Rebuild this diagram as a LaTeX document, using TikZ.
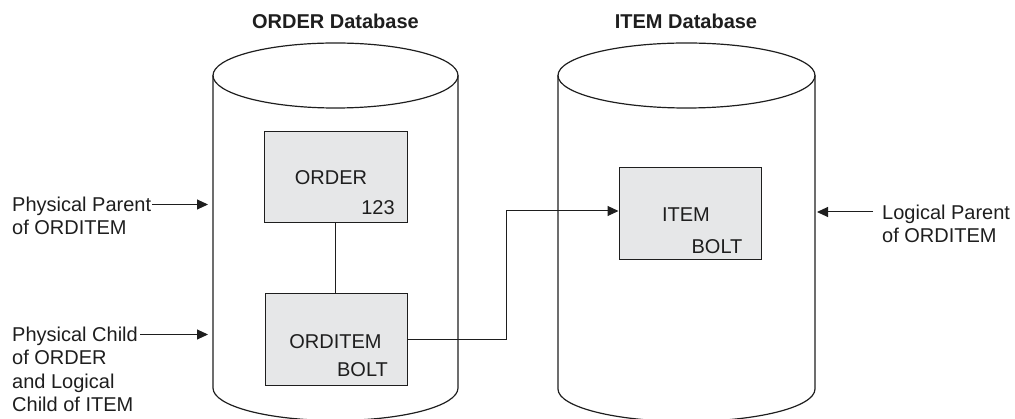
\documentclass[tikz,border=0pt]{standalone}
\usepackage{fontspec}
\setmainfont{Liberation Sans}
\usetikzlibrary{arrows.meta,calc}
\definecolor{boxfill}{HTML}{E6E7E8}
\definecolor{ink}{HTML}{1E1E1E}
\begin{document}
\begin{tikzpicture}[x=1pt,y=1pt,
  every node/.style={font=\fontsize{20}{23.5}\selectfont, text=ink},
  cyl/.style={draw=ink, line width=1.2pt},
  segbox/.style={draw=ink, fill=boxfill, line width=1pt, minimum width=142pt, minimum height=92pt, inner sep=0pt},
  link/.style={draw=ink, line width=1pt},
  arr/.style={draw=ink, line width=1pt, -{Triangle[length=11pt,width=10pt]}},
  lbl/.style={anchor=north west, align=left, inner sep=0pt},
  title/.style={font=\fontsize{20}{23.5}\selectfont\bfseries}
]
\useasboundingbox (0,0) rectangle (1015,-419);

% ORDER database cylinder
\draw[cyl] (335.5,-75.5) ellipse [x radius=122.5, y radius=32.5];
\draw[cyl] (213,-75.5) -- (213,-388) arc [start angle=180, end angle=360, x radius=122.5, y radius=32.5] -- (458,-75.5);
% ITEM database cylinder
\draw[cyl] (686.5,-75.5) ellipse [x radius=128.5, y radius=32.5];
\draw[cyl] (558,-75.5) -- (558,-389) arc [start angle=180, end angle=360, x radius=128.5, y radius=32.5] -- (815,-75.5);

% titles
\node[title] (t1) at (335.5,-21) {ORDER Database};
\node[title] (t2) at (686,-21) {ITEM Database};

% segment boxes
\node[segbox, minimum width=143pt, minimum height=91pt] (order) at (335.5,-177.5) {};
\node[segbox] (orditem) at (336,-340) {};
\node[segbox] (item) at (690,-214) {};

\node (ordertxt) at (331,-178) {ORDER};
\node (ordernum) at (378,-208) {123};
\node (orditemtxt) at (335.5,-342) {ORDITEM};
\node (orditembolt) at (362.5,-370) {BOLT};
\node (itemtxt) at (686,-215) {ITEM};
\node (itembolt) at (717,-247) {BOLT};

% connectors
\draw[link] (order.south) -- (order.south |- orditem.north);
\draw[arr] (orditem.east) -- ++(99,0) |- ([yshift=3pt]item.west);

% side labels
\node[lbl] (pp) at (12,-196.5) {Physical Parent\\of ORDITEM};
\node[lbl] (pc) at (12,-326.5) {Physical Child\\of ORDER\\and Logical\\Child of ITEM};
\node[lbl] (lp) at (882,-204.5) {Logical Parent\\of ORDITEM};

\coordinate (ppstart) at (152,-204.5);
\coordinate (ppend) at (208,-204.5);
\coordinate (pcstart) at (140,-334.5);
\coordinate (pcend) at (208,-334.5);
\coordinate (lpstart) at (873,-212);
\coordinate (lpend) at (817,-212);
\draw[arr] (ppstart) -- (ppend);
\draw[arr] (pcstart) -- (pcend);
\draw[arr] (lpstart) -- (lpend);
\end{tikzpicture}
\end{document}
